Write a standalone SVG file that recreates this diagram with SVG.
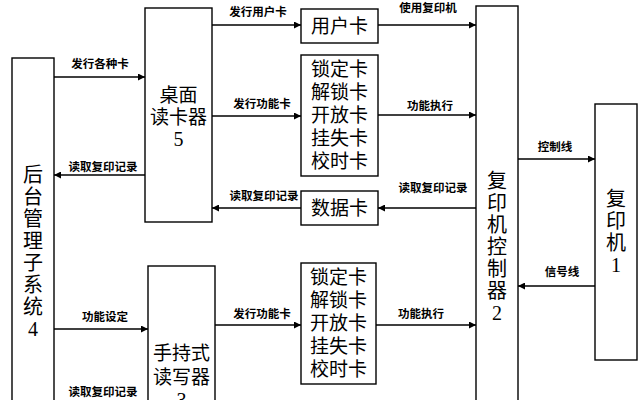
<svg xmlns="http://www.w3.org/2000/svg" width="639" height="400" viewBox="0 0 639 400">
<defs>
<marker id="ah" viewBox="0 0 10 10" refX="10" refY="5" markerWidth="9" markerHeight="7" markerUnits="userSpaceOnUse" orient="auto">
<path d="M0,0 L10,5 L0,10 z" fill="#000"/>
</marker>
<style>
rect{fill:#fff;stroke:#000;stroke-width:1.4}
.c line{stroke:#000;stroke-width:1.4;marker-end:url(#ah)}
text{font-family:"Noto Sans CJK SC","Noto Sans",sans-serif;fill:#000;text-anchor:middle;dominant-baseline:central}
.n{font-family:"Liberation Sans","Noto Sans CJK SC",sans-serif;font-size:19px}
.v{font-size:20px;writing-mode:vertical-rl;text-orientation:upright;letter-spacing:2px;text-anchor:start}
.d{font-family:"Liberation Serif","Noto Sans CJK SC",serif;font-size:20px}
.l{font-size:11.5px;font-weight:700}
</style>
</defs>
<rect x="0" y="0" width="639" height="400" style="stroke:none;fill:#fff"/>
<g class="c" id="connectors">
<line x1="54" y1="77" x2="145" y2="77"/>
<line x1="145" y1="175" x2="54" y2="175"/>
<line x1="212" y1="25" x2="301" y2="25"/>
<line x1="212" y1="116" x2="301" y2="116"/>
<line x1="301" y1="208" x2="212" y2="208"/>
<line x1="378" y1="25" x2="476" y2="25"/>
<line x1="378" y1="115" x2="476" y2="115"/>
<line x1="476" y1="208" x2="378" y2="208"/>
<line x1="518" y1="159" x2="595" y2="159"/>
<line x1="595" y1="286" x2="518" y2="286"/>
<line x1="54" y1="329" x2="148" y2="329"/>
<line x1="215" y1="325" x2="301" y2="325"/>
<line x1="376" y1="325" x2="476" y2="325"/>
<text class="l" x="100" y="63">发行各种卡</text>
<text class="l" x="103" y="166">读取复印记录</text>
<text class="l" x="258" y="11">发行用户卡</text>
<text class="l" x="262" y="103">发行功能卡</text>
<text class="l" x="264" y="195">读取复印记录</text>
<text class="l" x="428" y="7">使用复印机</text>
<text class="l" x="430" y="105">功能执行</text>
<text class="l" x="433" y="187">读取复印记录</text>
<text class="l" x="555" y="146">控制线</text>
<text class="l" x="562" y="271">信号线</text>
<text class="l" x="105" y="316">功能设定</text>
<text class="l" x="262" y="313">发行功能卡</text>
<text class="l" x="421" y="313">功能执行</text>
<text class="l" x="103" y="391">读取复印记录</text>
</g>
<g id="backend">
<rect x="12" y="58" width="42" height="360"/>
<text class="v" x="33" y="164">后台管理子系统<tspan class="d">4</tspan></text>
</g>
<g id="desktop-reader">
<rect x="145" y="8" width="67" height="214"/>
<text class="n"><tspan x="178.5" y="95">桌面</tspan><tspan x="178.5" y="117">读卡器</tspan><tspan class="d" x="178.5" y="139">5</tspan></text>
</g>
<g id="handheld-reader">
<rect x="148" y="266" width="67" height="200"/>
<text class="n"><tspan x="181.5" y="353">手持式</tspan><tspan x="181.5" y="377">读写器</tspan><tspan class="d" x="181.5" y="400">3</tspan></text>
</g>
<g id="user-card">
<rect x="301" y="9" width="77" height="34"/>
<text class="n" x="339.5" y="26">用户卡</text>
</g>
<g id="function-card-top">
<rect x="301" y="55" width="77" height="121"/>
<text class="n"><tspan x="339.5" y="69">锁定卡</tspan><tspan x="339.5" y="92">解锁卡</tspan><tspan x="339.5" y="115">开放卡</tspan><tspan x="339.5" y="138">挂失卡</tspan><tspan x="339.5" y="161">校时卡</tspan></text>
</g>
<g id="data-card">
<rect x="301" y="191" width="77" height="34"/>
<text class="n" x="339.5" y="208">数据卡</text>
</g>
<g id="function-card-bottom">
<rect x="301" y="263" width="75" height="121"/>
<text class="n"><tspan x="338.5" y="277">锁定卡</tspan><tspan x="338.5" y="300">解锁卡</tspan><tspan x="338.5" y="323">开放卡</tspan><tspan x="338.5" y="346">挂失卡</tspan><tspan x="338.5" y="369">校时卡</tspan></text>
</g>
<g id="copier-controller">
<rect x="476" y="6" width="42" height="420"/>
<text class="v" x="497" y="170">复印机控制器<tspan class="d">2</tspan></text>
</g>
<g id="copier">
<rect x="595" y="104" width="42" height="256"/>
<text class="v" x="616" y="188">复印机<tspan class="d">1</tspan></text>
</g>
</svg>
